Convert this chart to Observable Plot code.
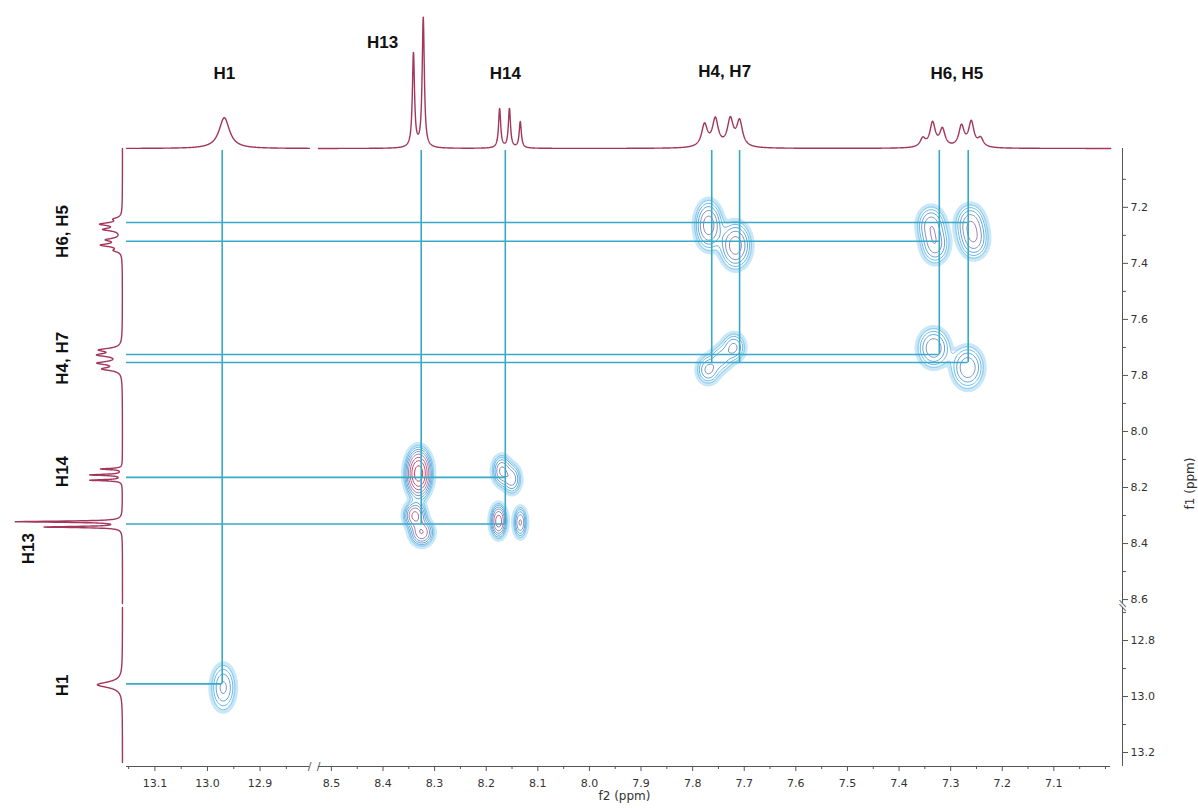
<!DOCTYPE html>
<html><head><meta charset="utf-8">
<script src="https://cdn.jsdelivr.net/npm/d3@7"></script>
<script src="https://cdn.jsdelivr.net/npm/@observablehq/plot@0.6"></script>
<style>
html,body{margin:0;padding:0;background:#fff;}
#chart{position:relative;width:1198px;height:808px;overflow:hidden;}
#chart svg{position:absolute;left:0;top:0;overflow:visible;}
</style></head><body><div id="chart"></div>
<script>
// ---------- 1D proton spectrum (projections) ----------
const peakGroup = ["H13","H13","H14","H14","H14","H1","H4, H7","H4, H7","H4, H7","H4, H7","H6, H5","H6, H5","H6, H5","H6, H5","H6, H5","H6, H5"];
const peakF2 = [8.341, 8.322, 8.174, 8.155, 8.134, 12.968, 7.777, 7.756, 7.727, 7.709, 7.354, 7.335, 7.316, 7.279, 7.260, 7.242];
const peakF1 = [8.341, 8.322, 8.174, 8.155, 8.134, 12.958, 7.777, 7.756, 7.727, 7.709, 7.354, 7.335, 7.316, 7.279, 7.260, 7.242];
const peakHeight = [72, 99, 30, 30, 20, 23.5, 17, 21, 20.5, 19.5, 6.5, 18.5, 13.5, 16, 19, 6.5];
const peakHalfWidth = [0.0025, 0.0025, 0.0025, 0.0025, 0.0025, 0.012, 0.0068, 0.0068, 0.0068, 0.0068, 0.0062, 0.0062, 0.0062, 0.0062, 0.0062, 0.0062];

// ---------- 2D cross peaks ----------
const crossF2 = [8.331, 8.338, 8.325, 8.170, 8.150, 8.176, 8.134, 7.769, 7.717, 7.338, 7.330, 7.262, 7.255, 7.770, 7.745, 7.720, 7.333, 7.267, 12.970];
const crossF1 = [8.150, 8.300, 8.360, 8.140, 8.170, 8.320, 8.325, 7.264, 7.336, 7.262, 7.335, 7.255, 7.318, 7.780, 7.740, 7.700, 7.702, 7.772, 12.968];
const crossAmp = [18, 8, 7, 5, 4, 9, 5, 6, 6, 4, 4, 4, 4, 3.5, 2.5, 3.5, 4.5, 4.5, 3.5];
const crossWidthF2 = [0.012, 0.011, 0.012, 0.010, 0.010, 0.008, 0.007, 0.0143, 0.0164, 0.0155, 0.0155, 0.016, 0.016, 0.013, 0.013, 0.013, 0.0175, 0.0175, 0.014];
const crossWidthF1 = [0.042, 0.025, 0.025, 0.030, 0.030, 0.030, 0.030, 0.047, 0.045, 0.038, 0.038, 0.038, 0.038, 0.030, 0.030, 0.030, 0.040, 0.043, 0.050];
const contourLevels = [1, 1.5, 2.2, 3.2, 4.7, 7, 10, 14.5];
const levelStops = [1, 2, 4.5, 14];
const levelColors = ["#86ccef", "#58abe0", "#9c88b0", "#dc3a58"];

// ---------- assignment lines ----------
const vLineF2 = [12.972, 8.326, 8.163, 7.763, 7.709, 7.322, 7.266];
const vLineEndF1 = [12.955, 8.33, 8.33, 7.754, 7.754, 7.725, 7.754];
const hLineF1 = [7.254, 7.321, 7.725, 7.754, 8.164, 8.33, 12.955];
const hLineEndF2 = [7.266, 7.322, 7.322, 7.266, 8.163, 8.163, 12.972];

// ---------- labels & ticks ----------
const topLabels = ["H1", "H13", "H14", "H4, H7", "H6, H5"];
const topLabelF2 = [12.968, 8.401, 8.163, 7.738, 7.288];
const topLabelLevel = [57, 81, 57, 59, 57];
const sideLabels = ["H6, H5", "H4, H7", "H14", "H13", "H1"];
const sideLabelF1 = [7.286, 7.739, 8.143, 8.418, 12.96];
const sideLabelLevel = [56, 56, 56, 88, 56];
const xMajorTicks = [13.1, 13.0, 12.9, 8.5, 8.4, 8.3, 8.2, 8.1, 8.0, 7.9, 7.8, 7.7, 7.6, 7.5, 7.4, 7.3, 7.2, 7.1];
const xMinorTicks = [13.15, 13.05, 12.95, 12.85, 8.45, 8.35, 8.25, 8.15, 8.05, 7.95, 7.85, 7.75, 7.65, 7.55, 7.45, 7.35, 7.25, 7.15, 7.05, 7.0];
const yMajorTicks = [7.2, 7.4, 7.6, 7.8, 8.0, 8.2, 8.4, 8.6, 12.8, 13.0, 13.2];
const yMinorTicks = [7.1, 7.3, 7.5, 7.7, 7.9, 8.1, 8.3, 8.5, 12.7, 12.9, 13.1];

// ---------- broken-axis setup (piecewise ppm -> position) ----------
const xDomain = [13.154, 12.806, 8.525, 6.967];
const xRange = [126, 309, 318, 1122];
const yDomain = [6.99, 8.614, 12.682, 13.25];
const yRange = [148, 603, 607, 766];
const xAxisSegments = [[13.154, 12.806], [8.525, 6.99]];
const yAxisSegments = [[6.99, 8.614], [12.682, 13.25]];
const topSpecSegments = [[13.154, 12.806], [8.525, 6.99]];
const sideSpecSegments = [[6.99, 8.614], [12.682, 13.236]];
// linear panels of the 2D map (each inside one piece of both broken axes)
const panelX = [[8.525, 6.99], [13.154, 12.806]];
const panelY = [[6.99, 8.614], [12.682, 13.25]];

const specColor = "#a3365b";
const lineColor = "#38a9c6";
const W = 1198, H = 808;
const fmt = d3.format(".1f");
// broken axes: ppm is mapped piecewise, Plot then uses identity position scales
const bx = d3.scaleLinear(xDomain, xRange);
const by = d3.scaleLinear(yDomain, yRange);

function lineshape(p, pos) {
  let s = 0;
  for (let i = 0; i < pos.length; i++) {
    const d = (p - pos[i]) / peakHalfWidth[i];
    s += peakHeight[i] / (1 + d * d);
  }
  return s;
}
function sampleSpectrum(segments, pos) {
  const out = [];
  segments.forEach((seg, k) => {
    const lo = Math.min(seg[0], seg[1]), hi = Math.max(seg[0], seg[1]);
    const grid = d3.range(lo, hi, 0.0004).concat([hi]);
    for (const p of grid) out.push({ppm: p, int: lineshape(p, pos), seg: k});
  });
  return out;
}
function surface(x, y) {
  let s = 0;
  for (let i = 0; i < crossF2.length; i++) {
    const dx = (x - crossF2[i]) / crossWidthF2[i];
    if (dx > 7 || dx < -7) continue;
    const dy = (y - crossF1[i]) / crossWidthF1[i];
    if (dy > 7 || dy < -7) continue;
    s += crossAmp[i] * Math.exp(-0.5 * (dx * dx + dy * dy));
  }
  return s;
}
function panelGrid(xs, ys) {
  const w = Math.round(Math.abs(bx(xs[1]) - bx(xs[0])));
  const h = Math.round(Math.abs(by(ys[1]) - by(ys[0])));
  const values = new Float64Array(w * h);
  for (let j = 0; j < h; j++) {
    const y = ys[0] + (j + 0.5) * (ys[1] - ys[0]) / h;
    for (let i = 0; i < w; i++) {
      const x = xs[0] + (i + 0.5) * (xs[1] - xs[0]) / w;
      values[j * w + i] = surface(x, y);
    }
  }
  return {values, w, h, x1: bx(xs[0]), x2: bx(xs[1]), y1: by(ys[0]), y2: by(ys[1])};
}
const panels = panelX.map((xs, k) => panelGrid(xs, panelY[k]));

const topSpec = sampleSpectrum(topSpecSegments, peakF2);
const sideSpec = sampleSpectrum(sideSpecSegments, peakF1);

const baseStyle = {background: "transparent", fontFamily: "DejaVu Sans, Verdana, sans-serif", fontSize: "11px", color: "#333"};
const labelFont = "Liberation Sans, Arial, sans-serif";

const contourMarks = [];
for (const p of panels) {
  contourMarks.push(Plot.contour(p.values, {width: p.w, height: p.h, x1: p.x1, x2: p.x2, y1: p.y1, y2: p.y2,
    value: Plot.identity, thresholds: [0.8], stroke: "#c4e4f6", strokeWidth: 4.5, strokeOpacity: 0.9}));
}
for (const p of panels) {
  contourMarks.push(Plot.contour(p.values, {width: p.w, height: p.h, x1: p.x1, x2: p.x2, y1: p.y1, y2: p.y2,
    stroke: Plot.identity, thresholds: contourLevels, strokeWidth: 1}));
}

const mainPlot = Plot.plot({
  width: W, height: H,
  marginLeft: 126, marginRight: 76, marginTop: 148, marginBottom: 42,
  style: baseStyle,
  x: {type: "identity", axis: null},
  y: {type: "identity", axis: null},
  color: {type: "log", domain: levelStops, range: levelColors},
  marks: [
    ...contourMarks,
    Plot.ruleX(vLineF2, {x: d => bx(d), y1: by(yDomain[0]) + 2, y2: (d, i) => by(vLineEndF1[i]), stroke: lineColor, strokeWidth: 1.6}),
    Plot.ruleY(hLineF1, {y: d => by(d), x1: bx(xDomain[0]), x2: (d, i) => bx(hLineEndF2[i]), stroke: lineColor, strokeWidth: 1.6}),
    Plot.ruleY(xAxisSegments, {y: by(yDomain[3]), x1: d => bx(d[0]), x2: d => bx(d[1]), stroke: "#555", strokeWidth: 1}),
    Plot.ruleX(yAxisSegments, {x: bx(xDomain[3]), y1: d => by(d[0]), y2: d => by(d[1]), stroke: "#555", strokeWidth: 1}),
    Plot.text([xAxisSegments[0][1], xAxisSegments[1][0]], {x: d => bx(d), y: by(yDomain[3]), text: () => "/", fontSize: 11, fill: "#555"}),
    Plot.text([yAxisSegments[0][1], yAxisSegments[1][0]], {x: bx(xDomain[3]), y: d => by(d), text: () => "/", rotate: -60, fontSize: 11, fill: "#555"}),
    Plot.axisX(xMajorTicks.map(bx), {anchor: "bottom", tickSize: 5, tickPadding: 8, tickFormat: v => fmt(bx.invert(v)), fontSize: 11, stroke: "#555"}),
    Plot.axisX(xMinorTicks.map(bx), {anchor: "bottom", tickSize: 3, tickFormat: () => "", stroke: "#555"}),
    Plot.axisY(yMajorTicks.map(by), {anchor: "right", tickSize: 5, tickPadding: 3, tickFormat: v => fmt(by.invert(v)), fontSize: 11, stroke: "#555"}),
    Plot.axisY(yMinorTicks.map(by), {anchor: "right", tickSize: 3, tickFormat: () => "", stroke: "#555"}),
    Plot.text(["f2 (ppm)"], {frameAnchor: "bottom", dy: 33, fontSize: 12, fill: "#333"}),
    Plot.text(["f1 (ppm)"], {frameAnchor: "right", dx: 68, rotate: -90, fontSize: 12, fill: "#333"})
  ]
});

const topPlot = Plot.plot({
  width: W, height: H, margin: 0,
  style: baseStyle,
  x: {type: "identity", axis: null},
  y: {domain: [0, 100], range: [148, 17], axis: null},
  marks: [
    Plot.line(topSpec, {x: d => bx(d.ppm), y: "int", z: "seg", stroke: specColor, strokeWidth: 1.4}),
    Plot.text(topLabels, {x: (d, i) => bx(topLabelF2[i]), y: (d, i) => topLabelLevel[i], text: d => d,
      fontSize: 17, fontWeight: "bold", fontFamily: labelFont, fill: "#111"})
  ]
});

const sidePlot = Plot.plot({
  width: W, height: H, margin: 0,
  style: baseStyle,
  x: {domain: [0, 100], range: [122, 15], axis: null},
  y: {type: "identity", axis: null},
  marks: [
    Plot.line(sideSpec, {x: "int", y: d => by(d.ppm), z: "seg", stroke: specColor, strokeWidth: 1.4}),
    Plot.text(sideLabels, {x: (d, i) => sideLabelLevel[i], y: (d, i) => by(sideLabelF1[i]), text: d => d, rotate: -90,
      fontSize: 17, fontWeight: "bold", fontFamily: labelFont, fill: "#111"})
  ]
});

const host = document.getElementById("chart");
host.append(mainPlot, topPlot, sidePlot);
</script></body></html>
